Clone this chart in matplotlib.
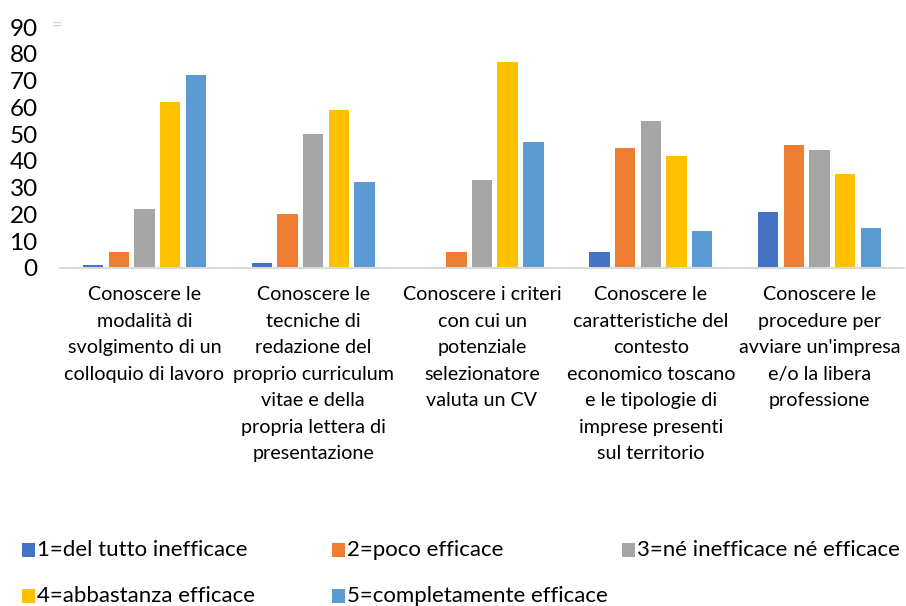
import matplotlib.pyplot as plt
from matplotlib.patches import Rectangle
import numpy as np

plt.rcParams['font.family'] = ['Lato', 'DejaVu Sans']

categories = [
    "Conoscere le\nmodalità di\nsvolgimento di un\ncolloquio di lavoro",
    "Conoscere le\ntecniche di\nredazione del\nproprio curriculum\nvitae e della\npropria lettera di\npresentazione",
    "Conoscere i criteri\ncon cui un\npotenziale\nselezionatore\nvaluta un CV",
    "Conoscere le\ncaratteristiche del\ncontesto\neconomico toscano\ne le tipologie di\nimprese presenti\nsul territorio",
    "Conoscere le\nprocedure per\navviare un'impresa\ne/o la libera\nprofessione",
]
series_names = [
    "1=del tutto inefficace",
    "2=poco efficace",
    "3=né inefficace né efficace",
    "4=abbastanza efficace",
    "5=completamente efficace",
]
s1 = [1, 2, 0, 6, 21]
s2 = [6, 20, 6, 45, 46]
s3 = [22, 50, 33, 55, 44]
s4 = [62, 59, 77, 42, 35]
s5 = [72, 32, 47, 14, 15]
values = [s1, s2, s3, s4, s5]
colors = ['#4472C4', '#ED7D31', '#A5A5A5', '#FFC000', '#5B9BD5']

fig = plt.figure(figsize=(9.06, 6.06), dpi=100)
ax = fig.add_axes([60 / 906, 1 - 268 / 606, 844 / 906, 241 / 606])

x = np.arange(len(categories))
step = 0.152
width = 0.121
for j, (vals, col) in enumerate(zip(values, colors)):
    ax.bar(x + (j - 2) * step, vals, width, color=col, label=series_names[j])

ax.set_xlim(-0.5, len(categories) - 0.5)
ax.set_ylim(0, 90)
ax.set_yticks(range(0, 91, 10))
ax.tick_params(axis='y', length=0, pad=16, labelsize=17.5, labelcolor='#000000')
ax.set_xticks(x)
ax.set_xticklabels(categories, fontsize=14.2, linespacing=1.68, va='top')
ax.tick_params(axis='x', length=0, pad=13)
for side in ['top', 'right', 'left']:
    ax.spines[side].set_visible(False)
ax.spines['bottom'].set_color('#D9D9D9')
ax.spines['bottom'].set_linewidth(1.5)

fig.text(52 / 906, 1 - 25 / 606, "=", color='#D6D6D6', fontsize=13, va='center')

# legend laid out like the original (3 columns, 2 rows)
col_x = [22, 332, 622]
row_y = [550, 596]
for i, (name, col) in enumerate(zip(series_names, colors)):
    cx = col_x[i % 3]
    cy = row_y[i // 3]
    fig.patches.append(Rectangle((cx / 906, 1 - (cy + 7) / 606), 13 / 906, 14 / 606,
                                 transform=fig.transFigure, facecolor=col, edgecolor='none'))
    fig.text((cx + 15) / 906, 1 - cy / 606, name, fontsize=16, va='center', ha='left')

fig.savefig('out.png', dpi=100)
